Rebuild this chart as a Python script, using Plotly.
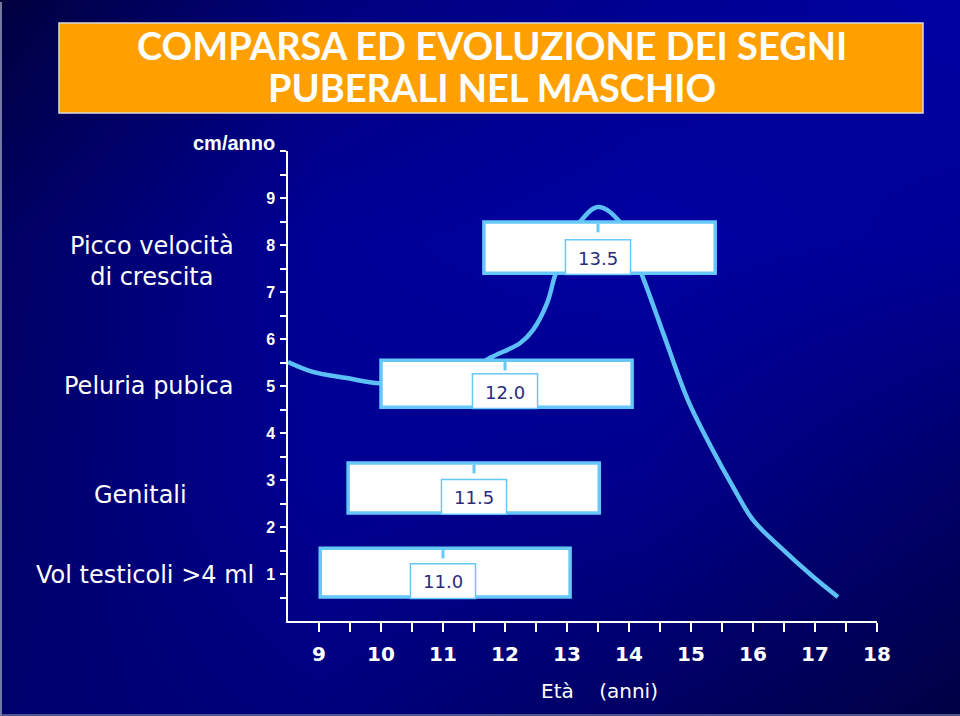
import plotly.graph_objects as go

# ---------------- data ----------------
# growth velocity curve (age in years, cm/year)
ages = [8.50, 8.90, 9.45, 9.98, 10.79, 11.44, 11.76, 12.24, 12.45, 12.68, 12.81, 13.00,
        13.21, 13.50, 13.85, 14.21, 14.55, 14.95, 15.35, 15.68, 16.00, 16.44, 16.97, 17.37]
velocity = [5.51, 5.30, 5.17, 5.06, 5.17, 5.34, 5.60, 5.91, 6.19, 6.77, 7.36, 7.94,
            8.49, 8.81, 8.49, 7.36, 6.13, 4.70, 3.64, 2.85, 2.15, 1.57, 0.94, 0.51]

# pubertal signs: median age of appearance and age range
stage_names = ["Vol testicoli >4 ml", "Genitali", "Peluria pubica", "Picco velocità<br>di crescita"]
median_age = [11.0, 11.5, 12.0, 13.5]
median_text = ["11.0", "11.5", "12.0", "13.5"]
range_start = [9.02, 9.47, 10.0, 11.66]
range_end = [13.05, 13.52, 14.05, 15.39]
row_bottom = [0.51, 2.30, 4.55, 7.40]
row_top = [1.55, 3.36, 5.55, 8.49]

x_tick_vals = [9 + 0.5 * i for i in range(19)]
x_tick_text = [str(int(v)) if v == int(v) else "" for v in x_tick_vals]
y_tick_vals = [0.5 * i for i in range(1, 21)]
y_tick_text = [str(int(v)) if (v == int(v) and v < 10) else "" for v in y_tick_vals]

title_lines = ["COMPARSA ED EVOLUZIONE DEI SEGNI", "PUBERALI NEL MASCHIO"]

# background shading (brightness 0..1)
bg_x = [0, 320, 640, 960]
bg_y = [0, 240, 480, 716]
bg_z = [[0.00, 0.60, 0.80, 0.95],
        [0.35, 0.85, 0.95, 0.85],
        [0.40, 0.82, 0.75, 0.40],
        [0.45, 0.60, 0.35, 0.05]]

# ---------------- style ----------------
REF_W, H = 960, 716
W = 974  # the page is captured slightly narrower than laid out
COMIC = "Comic Sans MS, DejaVu Sans, sans-serif"
TITLEF = "Comic Sans MS, Lato, sans-serif"
ARIAL = "Arial, Liberation Sans, sans-serif"
CURVE = "#5cc0f6"
BOXLINE = "#66c8fa"
NUM = "#2b2b7c"


def px(x):
    return x / REF_W


def py(y):
    return 1 - y / H


fig = go.Figure()

fig.add_trace(go.Heatmap(
    x=bg_x, y=bg_y, z=bg_z, zsmooth="best", showscale=False, hoverinfo="skip",
    colorscale=[[0, "#00003e"], [1, "#0000a6"]], zmin=0, zmax=1,
    xaxis="x", yaxis="y"))

fig.add_trace(go.Scatter(
    x=ages, y=velocity, mode="lines", line=dict(color=CURVE, width=4.5, shape="spline", smoothing=1.0),
    hoverinfo="skip", xaxis="x2", yaxis="y2", showlegend=False))

shapes = []
annotations = []

# title banner
shapes.append(dict(type="rect", xref="paper", yref="paper", x0=px(59), x1=px(923), y0=py(23), y1=py(113),
                   fillcolor="#ffa000", line=dict(color="#dcdcdc", width=1.5), layer="above"))
annotations.append(dict(xref="paper", yref="paper", x=px(492), y=py(45), text=title_lines[0], showarrow=False,
                        font=dict(family=TITLEF, size=38, color="white", weight="bold"),
                        xanchor="center", yanchor="middle"))
annotations.append(dict(xref="paper", yref="paper", x=px(492), y=py(87), text=title_lines[1], showarrow=False,
                        font=dict(family=TITLEF, size=38, color="white", weight="bold"),
                        xanchor="center", yanchor="middle"))

# stage boxes
inner_half = 0.525
inner_h = 0.74
for i in range(len(median_age)):
    shapes.append(dict(type="rect", xref="x2", yref="y2", x0=range_start[i], x1=range_end[i],
                       y0=row_bottom[i], y1=row_top[i], fillcolor="white",
                       line=dict(color=BOXLINE, width=3.5), layer="above"))
    shapes.append(dict(type="line", xref="x2", yref="y2", x0=median_age[i], x1=median_age[i],
                       y0=row_top[i] - 0.04, y1=row_top[i] - 0.22,
                       line=dict(color=BOXLINE, width=3), layer="above"))
    ib = row_bottom[i] - 0.03
    shapes.append(dict(type="rect", xref="x2", yref="y2", x0=median_age[i] - inner_half,
                       x1=median_age[i] + inner_half, y0=ib, y1=ib + inner_h, fillcolor="white",
                       line=dict(color=BOXLINE, width=1.5), layer="above"))
    annotations.append(dict(xref="x2", yref="y2", x=median_age[i], y=ib + inner_h / 2 - 0.02,
                            text=median_text[i], showarrow=False, xanchor="center", yanchor="middle",
                            font=dict(family=COMIC, size=18, color=NUM)))

# left labels
label_pos = [(145, 575), (140, 495), (148, 386), (152, 261)]
for name, (lx, ly) in zip(stage_names, label_pos):
    annotations.append(dict(xref="paper", yref="paper", x=px(lx), y=py(ly), text=name, showarrow=False,
                            xanchor="center", yanchor="middle", align="center",
                            font=dict(family=COMIC, size=24, color="white")))

annotations.append(dict(xref="paper", yref="paper", x=px(277), y=py(143), text="cm/anno", showarrow=False,
                        xanchor="right", yanchor="middle",
                        font=dict(family=ARIAL, size=20, color="white", weight="bold")))
annotations.append(dict(xref="paper", yref="paper", x=px(599), y=py(691), text="Età    (anni)", showarrow=False,
                        xanchor="center", yanchor="middle",
                        font=dict(family=COMIC, size=20, color="white")))

# frame edges
shapes.append(dict(type="line", xref="paper", yref="paper", x0=px(1), x1=px(1), y0=0, y1=py(2),
                   line=dict(color="#9aa0c0", width=1.5), layer="above"))
shapes.append(dict(type="line", xref="paper", yref="paper", x0=0, x1=1, y0=py(715), y1=py(715),
                   line=dict(color="#6a70a0", width=1.5), layer="above"))

fig.update_layout(
    width=W, height=H, autosize=False, margin=dict(l=0, r=0, t=0, b=0, pad=0),
    paper_bgcolor="#000060", plot_bgcolor="rgba(0,0,0,0)", showlegend=False,
    xaxis=dict(domain=[0, 1], range=[0, REF_W], visible=False, fixedrange=True),
    yaxis=dict(domain=[0, 1], range=[716, 0], visible=False, fixedrange=True),
    xaxis2=dict(domain=[px(288), px(877)], range=[8.5, 18], anchor="y2",
                showline=True, linecolor="white", linewidth=1.5, showgrid=False, zeroline=False,
                ticks="outside", ticklen=9, tickwidth=1.5, tickcolor="white",
                tickmode="array", tickvals=x_tick_vals, ticktext=x_tick_text, ticklabelstandoff=5,
                tickfont=dict(family=COMIC, size=20, color="white", weight="bold")),
    yaxis2=dict(domain=[py(621), py(151)], range=[0, 10], anchor="x2",
                showline=True, linecolor="white", linewidth=1.5, showgrid=False, zeroline=False,
                ticks="outside", ticklen=6, tickwidth=1.5, tickcolor="white",
                tickmode="array", tickvals=y_tick_vals, ticktext=y_tick_text, ticklabelstandoff=2,
                tickfont=dict(family=ARIAL, size=16, color="white", weight="bold")),
    shapes=shapes, annotations=annotations,
)

fig.write_html("out.html",
               config={"responsive": False, "displayModeBar": False},
               post_script="document.documentElement.style.overflow='hidden';"
                           "document.body.style.margin='0';document.body.style.overflow='hidden';"
                           "document.body.style.background='#000050';")
